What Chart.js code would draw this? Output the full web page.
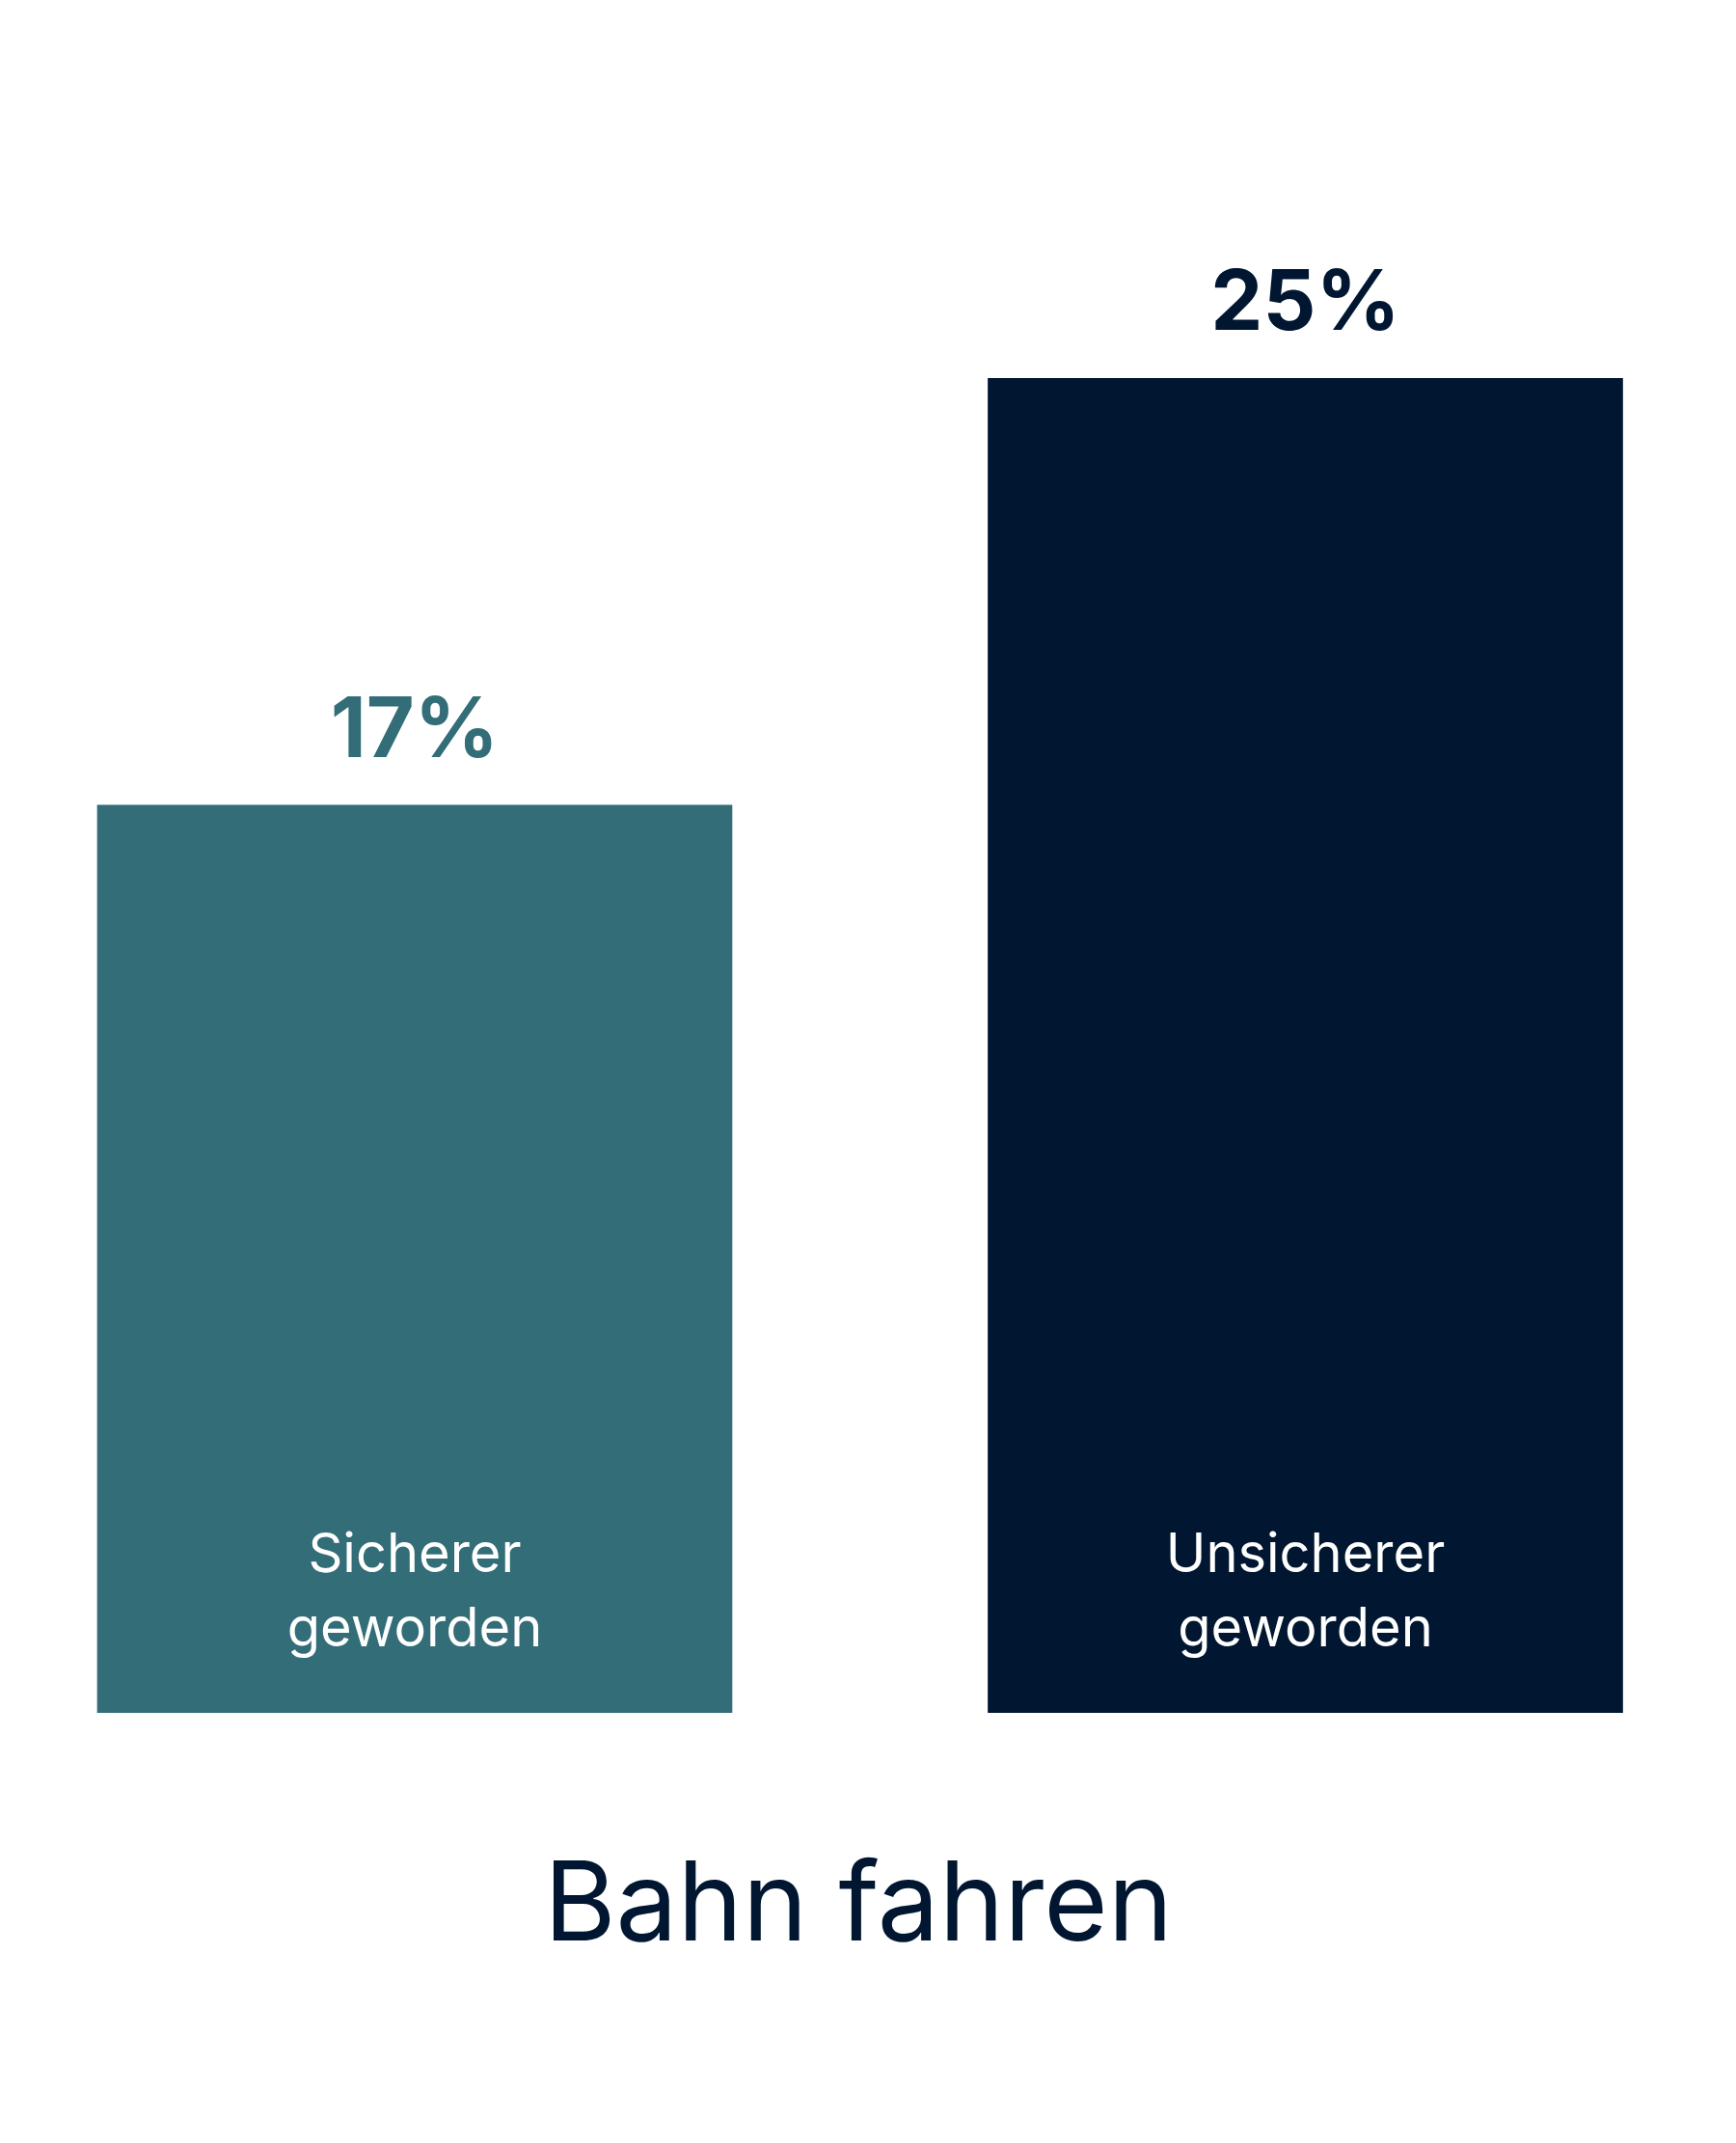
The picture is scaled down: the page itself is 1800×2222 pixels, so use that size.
<!DOCTYPE html>
<html><head><meta charset="utf-8">
<script src="https://cdn.jsdelivr.net/npm/chart.js@4"></script>
<style>html,body{margin:0;padding:0;background:#fff}#w{width:1800px;height:2222px;position:relative}</style>
</head><body><div id="w"><canvas id="c"></canvas></div>
<script>
const categories = [["Sicherer","geworden"],["Unsicherer","geworden"]];
const values = [17, 25];
const colors = ["#326D78", "#011631"];
const title = "Bahn fahren";

const labelsPlugin = {
  id: 'lbl',
  afterDatasetsDraw(chart) {
    const ctx = chart.ctx;
    const meta = chart.getDatasetMeta(0);
    ctx.save();
    ctx.textAlign = 'center';
    meta.data.forEach((bar, i) => {
      ctx.fillStyle = colors[i];
      ctx.font = 'bold 86px Inter, sans-serif';
      ctx.textBaseline = 'alphabetic';
      ctx.fillText(values[i] + '%', bar.x, bar.y - 50);
      ctx.fillStyle = '#ffffff';
      ctx.font = '56px Inter, sans-serif';
      categories[i].forEach((t, j) => ctx.fillText(t, bar.x, 1630 + j * 77));
    });
    ctx.fillStyle = '#011631';
    ctx.font = '114px Inter, sans-serif';
    ctx.fillText(title, 890, 2012);
    ctx.restore();
  }
};

new Chart(document.getElementById('c'), {
  type: 'bar',
  data: {
    datasets: [{
      data: values.map((v, i) => ({x: i, y: v})),
      backgroundColor: colors,
      barThickness: 658,
      borderWidth: 0
    }]
  },
  options: {
    responsive: true, maintainAspectRatio: false, animation: false,
    layout: {padding: {top: 392, bottom: 446, left: 0, right: 0}},
    plugins: {legend: {display: false}, tooltip: {enabled: false}},
    scales: {
      x: {type: 'linear', offset: false, min: -0.4656, max: 1.4835, display: false},
      y: {min: 0, max: 25, display: false}
    }
  },
  plugins: [labelsPlugin]
});
</script></body></html>
